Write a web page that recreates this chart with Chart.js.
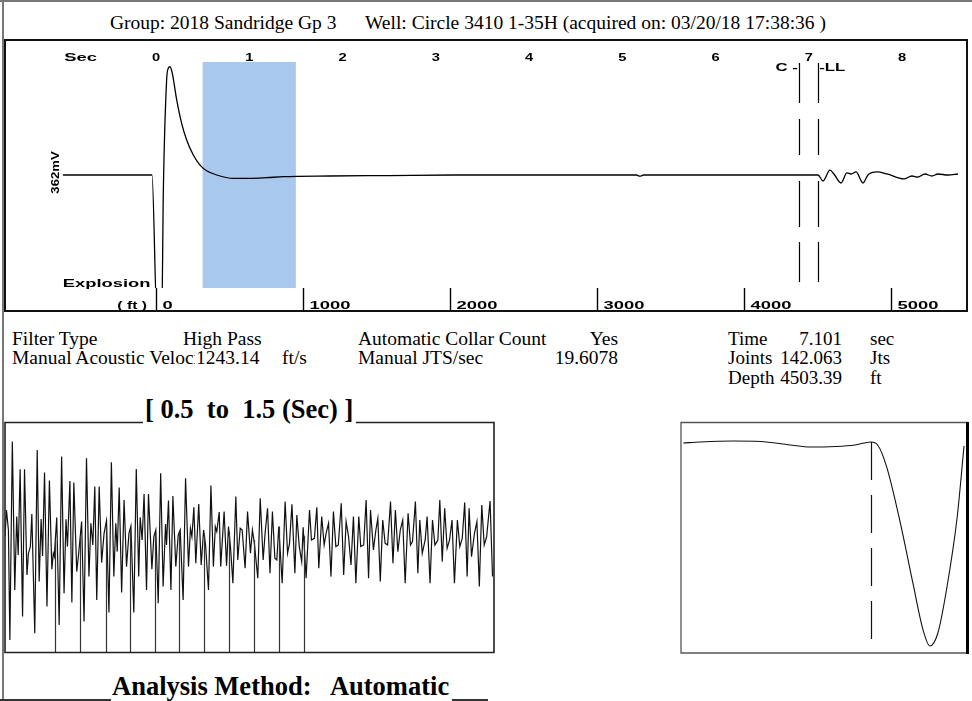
<!DOCTYPE html>
<html>
<head>
<meta charset="utf-8">
<script src="https://cdn.jsdelivr.net/npm/chart.js@4.4.0/dist/chart.umd.min.js"></script>
<style>
  html, body { margin: 0; padding: 0; background: #fff; }
  body { width: 972px; height: 701px; position: relative; overflow: hidden;
         font-family: "Liberation Serif", "Times New Roman", serif; color: #000; }
  .t { position: absolute; white-space: pre; font-size: 19.5px; line-height: 1; }
  .s { font-size: 19px; }
  .r { text-align: right; }
  .big { position: absolute; white-space: pre; font-size: 26.5px; font-weight: bold; line-height: 1; }
  .ln { position: absolute; background: #777; }
  canvas { position: absolute; }
</style>
</head>
<body>
<div class="ln" style="left:0;top:0;width:972px;height:2px;"></div>
<div class="ln" style="left:2px;top:0;width:2px;height:701px;"></div>
<div class="ln" style="left:0;top:699px;width:111px;height:2px;background:#333"></div>
<div class="ln" style="left:452px;top:699px;width:36px;height:2px;background:#333"></div>

<div class="t" style="left:110px;top:13px;">Group: 2018 Sandridge Gp 3</div>
<div class="t" style="left:365px;top:13px;">Well: Circle 3410 1-35H (acquired on: 03/20/18 17:38:36 )</div>

<canvas id="main" width="964" height="273" style="left:4px;top:39px;"></canvas>

<div class="t" style="left:12px;top:329px;">Filter Type</div>
<div class="t" style="left:183px;top:329px;">High Pass</div>
<div class="t" style="left:358px;top:329px;">Automatic Collar Count</div>
<div class="t r" style="right:354px;top:329px;">Yes</div>
<div class="t s" style="left:728px;top:329px;">Time</div>
<div class="t s r" style="right:130px;top:329px;">7.101</div>
<div class="t s" style="left:870px;top:329px;">sec</div>

<div class="t" style="left:12px;top:348px;width:183px;overflow:hidden;">Manual Acoustic Velocity</div>
<div class="t" style="left:196px;top:348px;">1243.14</div>
<div class="t" style="left:282px;top:348px;">ft/s</div>
<div class="t" style="left:358px;top:348px;">Manual JTS/sec</div>
<div class="t r" style="right:354px;top:348px;">19.6078</div>
<div class="t s" style="left:728px;top:348px;">Joints</div>
<div class="t s r" style="right:130px;top:348px;">142.063</div>
<div class="t s" style="left:870px;top:348px;">Jts</div>

<div class="t s" style="left:728px;top:368px;">Depth</div>
<div class="t s r" style="right:130px;top:368px;">4503.39</div>
<div class="t s" style="left:870px;top:368px;">ft</div>

<div class="big" style="left:145px;top:396px;">[ 0.5  to  1.5 (Sec) ]</div>
<canvas id="zoomL" width="491" height="233" style="left:4px;top:421px;"></canvas>
<canvas id="zoomR" width="290" height="233" style="left:680px;top:421px;"></canvas>
<div class="big" style="left:112px;top:673px;">Analysis Method:   Automatic</div>

<script>
// main trace (seconds, normalised amplitude, 362 mV full scale)
let mainTime = [-1.0, -0.043, 0.012, 0.061, 0.079, 0.114, 0.132, 0.150, 0.175, 0.222, 0.275, 0.329,
  0.400, 0.472, 0.543, 0.651, 0.829, 1.008, 1.187, 1.365, 1.866, 2.5, 3.2, 5.15, 5.19, 5.23, 6.0,
  7.099, 7.153, 7.228, 7.27, 7.346, 7.41, 7.453, 7.507, 7.582, 7.635, 7.732, 7.839, 8.02, 8.106,
  8.17, 8.247, 8.32, 8.386, 8.493, 8.6];
let mainAmp = [0, 0, -1.3, -1.3, -0.133, 0.841, 0.944, 0.958, 0.9, 0.664, 0.457, 0.31,
  0.177, 0.088, 0.038, 0.0, -0.03, -0.03, -0.024, -0.015, -0.009, -0.005, 0, 0, -0.01, 0, 0,
  0, -0.053, 0.044, 0.009, -0.071, 0.018, 0.009, 0.027, -0.071, 0, 0.027, 0.009, -0.035, -0.009,
  -0.018, 0.009, -0.009, 0.009, 0, 0.009];
let timeTicks = [0, 1, 2, 3, 4, 5, 6, 7, 8];
let depthTicks = [0, 1000, 2000, 3000, 4000, 5000];
let llTimeSec = 7.101;
let llDepthFt = 4503.39;
let collarSec = 6.895;
let windowSec = [0.5, 1.5];

// 0.5 - 1.5 sec window (filtered)
let zoomTime = [0.500, 0.503, 0.507, 0.510, 0.515, 0.520, 0.524, 0.527, 0.531, 0.536, 0.540, 0.545,
  0.548, 0.552, 0.555, 0.561, 0.566, 0.570, 0.574, 0.577, 0.581, 0.586, 0.591, 0.596, 0.599, 0.601,
  0.606, 0.611, 0.616, 0.621, 0.625, 0.628, 0.633, 0.637, 0.641, 0.647, 0.651, 0.657, 0.662, 0.667,
  0.672, 0.676, 0.680, 0.684, 0.688, 0.693, 0.698, 0.703, 0.708, 0.713, 0.718, 0.723, 0.727, 0.730,
  0.734, 0.739, 0.744, 0.749, 0.754, 0.758, 0.764, 0.769, 0.774, 0.777, 0.781, 0.785, 0.790, 0.794,
  0.801, 0.805, 0.809, 0.814, 0.819, 0.824, 0.829, 0.831, 0.835, 0.840, 0.844, 0.850, 0.855, 0.859,
  0.865, 0.870, 0.876, 0.880, 0.883, 0.887, 0.891, 0.897, 0.902, 0.907, 0.911, 0.917, 0.922, 0.927,
  0.931, 0.934, 0.939, 0.942, 0.949, 0.954, 0.958, 0.962, 0.967, 0.973, 0.977, 0.982, 0.986, 0.992,
  0.997, 1.003, 1.007, 1.011, 1.018, 1.023, 1.029, 1.033, 1.038, 1.043, 1.048, 1.053, 1.057, 1.061,
  1.068, 1.074, 1.079, 1.083, 1.088, 1.094, 1.098, 1.103, 1.108, 1.111, 1.117, 1.124, 1.128, 1.134,
  1.139, 1.143, 1.149, 1.154, 1.158, 1.163, 1.168, 1.173, 1.178, 1.183, 1.189, 1.194, 1.199, 1.204,
  1.209, 1.214, 1.219, 1.225, 1.229, 1.235, 1.240, 1.245, 1.249, 1.255, 1.260, 1.264, 1.269, 1.274,
  1.279, 1.284, 1.290, 1.295, 1.300, 1.305, 1.310, 1.315, 1.320, 1.326, 1.331, 1.335, 1.341, 1.346,
  1.350, 1.355, 1.361, 1.365, 1.371, 1.376, 1.381, 1.387, 1.391, 1.396, 1.401, 1.406, 1.411, 1.416,
  1.421, 1.427, 1.432, 1.437, 1.442, 1.447, 1.451, 1.456, 1.462, 1.467, 1.472, 1.477, 1.482, 1.487,
  1.494, 1.499];
let zoomAmp = [6.7, 33.3, 13.3, -96.7, 101.7, -46.7, 26.7, -11.7, 74, -73.3, 74, -31.7,
  -10, -3.3, 29.3, -90, 93.3, -38.3, 24.3, -12.7, 70.7, -63.3, 62.7, -26, -10, -13.3,
  25.7, -81.7, 86.7, -50, 24, -3.3, 62.3, -59.3, 60.7, -28.3, -10, 21.7, -78.3, 85,
  -33.3, 20, -1.7, 56.7, -56.7, 56.7, -19.3, 10, 22.7, -69.3, 81, -33.3, 20, -8.3,
  55.7, -49.3, 43.3, -23.3, 10, 17.3, -69.3, 74.3, -33.3, 26, 3.3, 49.3, -46.7, 49.3,
  -26, 6.7, 13.3, -60, 70, -43.3, 19.3, -1.7, 42.7, -46.7, 47.3, -23.3, 8.3, 13.3,
  -56.7, 65, -23.3, 15, 6.7, 36, -20, 39.3, -21.7, 13.3, -1.7, -46.7, 57.7, -23.3,
  16.7, 11.7, 31.3, -23.3, 31.7, -22.3, 16.7, -3.3, -40, 46.7, -16.7, 15, 13.3, -25,
  31.7, -10, 13.3, 0, -35, 45, -16.7, 10, 35, -30, 31.7, -15, -16.7, 16.7,
  -40, 41.7, -10, 0, 39, -30, 28.3, -3.3, -18.3, 16, -35, 33.3, 3.3, 5,
  36, -25, 26.7, -1.7, 10, 20, -33.3, 31.7, -3.3, -1.7, 40, -31.7, 21.7, 6.7,
  -21.7, 26.7, -40, 26.7, -3.3, -1.7, 43.3, -35, 33.3, -6.7, 13.3, 25, -38.3, 23.3,
  0, -1.7, 41.7, -20, 33.3, -8.3, 13.3, 23.3, -40, 30, -1.7, 1.7, 41.7, -30,
  23.3, -10, 3.3, 26.7, -40, 23.3, -1.7, 3.3, 43.3, -18.3, 35, -5, 3.3, 23.3,
  -40, 23.3, -3.3, 5, 40.7, -33.3, 35, -13.3, 10, 21.7, -43.3, 38.3, -1.7, 6.7,
  42.3, -33.3];
let jointTimes = [0.603, 0.654, 0.706, 0.756, 0.807, 0.857, 0.908, 0.959, 1.010, 1.061, 1.112];

// liquid level close-up
let llTime = [6.936, 6.951, 6.980, 7.004, 7.030, 7.048, 7.070, 7.087, 7.101, 7.107, 7.115, 7.127,
  7.138, 7.147, 7.153, 7.160, 7.168, 7.177, 7.183];
let llAmp = [0.826, 0.835, 0.843, 0.839, 0.809, 0.791, 0.796, 0.809, 0.835, 0.809, 0.617, 0.13,
  -0.391, -0.8, -0.939, -0.826, -0.426, 0.183, 0.8];

let labelFont = "bold 10.5px 'Liberation Sans', Arial, sans-serif";

function wideText(ctx, text, x, y, align, sx) {
  ctx.save();
  ctx.translate(x, y);
  ctx.scale(sx || 1.75, 1);
  ctx.font = labelFont;
  ctx.fillStyle = "#000";
  ctx.textAlign = align || "center";
  ctx.textBaseline = "middle";
  ctx.fillText(text, 0, 0);
  ctx.restore();
}

function points(xs, ys) {
  return xs.map((x, i) => ({ x: x, y: ys[i] }));
}

function ampAt(xs, ys, t) {
  for (let i = 1; i < xs.length; i++) {
    if (xs[i] >= t) {
      let f = (t - xs[i - 1]) / (xs[i] - xs[i - 1]);
      return ys[i - 1] + f * (ys[i] - ys[i - 1]);
    }
  }
  return ys[ys.length - 1];
}

let mainDecor = {
  id: "mainDecor",
  beforeDatasetsDraw(chart) {
    let { ctx, chartArea: a, scales: { x } } = chart;
    let x0 = x.getPixelForValue(windowSec[0]);
    let x1 = x.getPixelForValue(windowSec[1]);
    ctx.save();
    ctx.fillStyle = "rgb(168,200,238)";
    ctx.fillRect(x0, a.top, x1 - x0, a.bottom - a.top);
    ctx.restore();
  },
  afterDraw(chart) {
    let { ctx, chartArea: a, scales: { x, y }, width, height } = chart;
    ctx.save();
    // collar / liquid level markers
    ctx.strokeStyle = "#000";
    ctx.lineWidth = 1.2;
    ctx.setLineDash([40, 16, 36, 26, 46, 15]);
    [collarSec, llTimeSec].forEach((t) => {
      let px = Math.round(x.getPixelForValue(t)) + 0.5;
      ctx.beginPath();
      ctx.moveTo(px, a.top + 1);
      ctx.lineTo(px, a.bottom);
      ctx.stroke();
    });
    ctx.setLineDash([]);
    wideText(ctx, "C -", x.getPixelForValue(collarSec) - 1, a.top + 6, "right", 1.6);
    wideText(ctx, "-LL", x.getPixelForValue(llTimeSec) + 1, a.top + 6, "left", 1.6);

    // time axis along the top
    wideText(ctx, "Sec", 76.5, a.top - 4);
    timeTicks.forEach((t) => {
      wideText(ctx, String(t), x.getPixelForValue(t), a.top - 4, "center", 1.4);
    });

    // depth axis along the bottom
    let ftPerSec = llDepthFt / llTimeSec;
    ctx.lineWidth = 1.4;
    depthTicks.forEach((d) => {
      let px = Math.round(x.getPixelForValue(d / ftPerSec)) + 0.5;
      ctx.beginPath();
      ctx.moveTo(px, a.bottom);
      ctx.lineTo(px, height);
      ctx.stroke();
      wideText(ctx, String(d), px + 6, a.bottom + 18, "left");
    });
    let zeroPx = x.getPixelForValue(0);
    wideText(ctx, "( ft )", zeroPx - 9, a.bottom + 18, "right", 1.5);
    wideText(ctx, "Explosion", zeroPx - 5.5, a.bottom - 4, "right");

    // amplitude scale label
    ctx.save();
    ctx.translate(a.left - 6.5, y.getPixelForValue(0) - 2.5);
    ctx.rotate(-Math.PI / 2);
    wideText(ctx, "362mV", 0, 0, "center", 1.25);
    ctx.restore();

    // frame
    ctx.lineWidth = 2;
    ctx.strokeStyle = "#111";
    ctx.strokeRect(1, 1, width - 2, height - 2);
    ctx.restore();
  }
};

let zoomDecor = {
  id: "zoomDecor",
  afterDraw(chart) {
    let { ctx, chartArea: a, scales: { x, y }, width, height } = chart;
    ctx.save();
    ctx.strokeStyle = "#333";
    ctx.lineWidth = 1.2;
    jointTimes.forEach((t) => {
      let px = Math.round(x.getPixelForValue(t)) + 0.5;
      ctx.beginPath();
      ctx.moveTo(px, a.bottom);
      ctx.lineTo(px, y.getPixelForValue(ampAt(zoomTime, zoomAmp, t)));
      ctx.stroke();
    });
    ctx.strokeStyle = "#222";
    ctx.lineWidth = 1.6;
    ctx.beginPath();
    ctx.moveTo(139, 1.5);
    ctx.lineTo(1, 1.5);
    ctx.lineTo(1, height - 1.5);
    ctx.lineTo(width - 1, height - 1.5);
    ctx.lineTo(width - 1, 1.5);
    ctx.lineTo(352, 1.5);
    ctx.stroke();
    ctx.restore();
  }
};

let llDecor = {
  id: "llDecor",
  afterDraw(chart) {
    let { ctx, chartArea: a, scales: { x, y }, width, height } = chart;
    ctx.save();
    let px = Math.round(x.getPixelForValue(llTimeSec)) + 0.5;
    ctx.strokeStyle = "#111";
    ctx.lineWidth = 1.2;
    ctx.setLineDash([38, 15]);
    ctx.beginPath();
    ctx.moveTo(px, y.getPixelForValue(ampAt(llTime, llAmp, llTimeSec)));
    ctx.lineTo(px, a.bottom - 5);
    ctx.stroke();
    ctx.setLineDash([]);
    ctx.strokeStyle = "#555";
    ctx.lineWidth = 1.3;
    ctx.beginPath();
    ctx.moveTo(width - 2, 1.5);
    ctx.lineTo(1, 1.5);
    ctx.lineTo(1, height - 1);
    ctx.lineTo(width - 2, height - 1);
    ctx.stroke();
    ctx.strokeStyle = "#000";
    ctx.lineWidth = 3;
    ctx.beginPath();
    ctx.moveTo(width - 2.5, 1);
    ctx.lineTo(width - 2.5, height);
    ctx.stroke();
    ctx.restore();
  }
};

function baseOptions(xMin, xMax, yMin, yMax, pad) {
  return {
    responsive: false,
    animation: false,
    events: [],
    layout: { padding: pad },
    scales: {
      x: { type: "linear", min: xMin, max: xMax, display: false },
      y: { min: yMin, max: yMax, display: false }
    },
    plugins: { legend: { display: false }, tooltip: { enabled: false } }
  };
}

new Chart(document.getElementById("main"), {
  type: "line",
  data: {
    datasets: [{
      data: points(mainTime, mainAmp),
      borderColor: "#000",
      borderWidth: 1.3,
      pointRadius: 0,
      cubicInterpolationMode: "monotone",
      fill: false
    }]
  },
  options: baseOptions(-1.0, 8.65, -1, 1, { left: 58.75, right: 5.4, top: 23, bottom: 24 }),
  plugins: [mainDecor]
});

new Chart(document.getElementById("zoomL"), {
  type: "line",
  data: {
    datasets: [{
      data: points(zoomTime, zoomAmp),
      borderColor: "#111",
      borderWidth: 1.2,
      pointRadius: 0,
      tension: 0,
      fill: false
    }]
  },
  options: baseOptions(0.5, 1.5, -108.7, 120.3, { left: 1, right: 2, top: 2, bottom: 2 }),
  plugins: [zoomDecor]
});

new Chart(document.getElementById("zoomR"), {
  type: "line",
  data: {
    datasets: [{
      data: points(llTime, llAmp),
      borderColor: "#111",
      borderWidth: 1.1,
      pointRadius: 0,
      cubicInterpolationMode: "monotone",
      fill: false
    }]
  },
  options: baseOptions(6.934, 7.1865, -1, 1, { left: 1, right: 2, top: 2, bottom: 1 }),
  plugins: [llDecor]
});
</script>
</body>
</html>
